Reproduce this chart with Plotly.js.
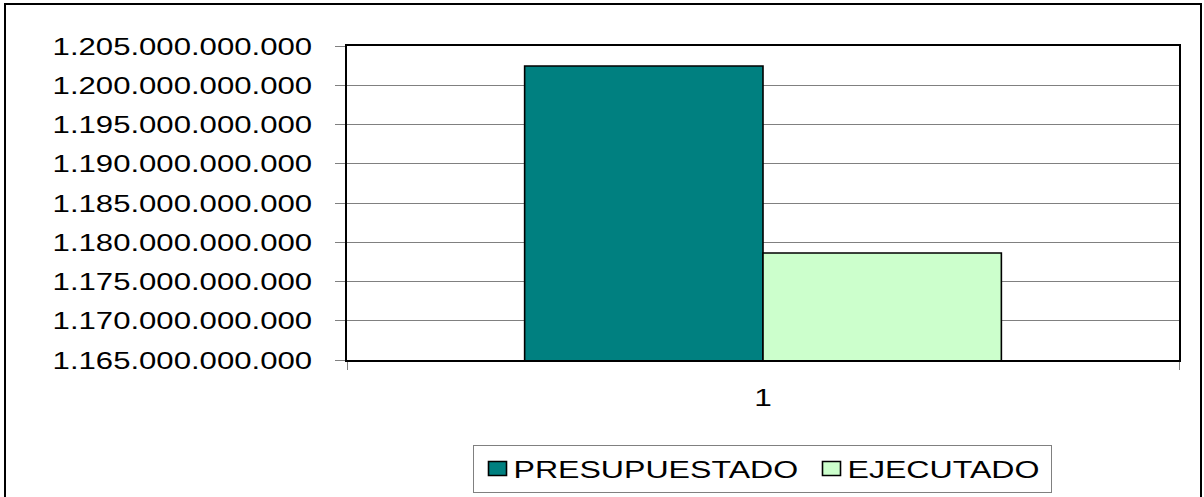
<!DOCTYPE html>
<html>
<head>
<meta charset="utf-8">
<script src="https://cdn.plot.ly/plotly-3.0.1.min.js"></script>
<style>
  html, body { margin: 0; padding: 0; background: #fff; }
  #chart { width: 1204px; height: 497px; }
</style>
</head>
<body>
<div id="chart"></div>
<script>
const categories = ["1"];
const seriesNames = ["PRESUPUESTADO", "EJECUTADO"];
const presupuestado = [1202450000000];
const ejecutado = [1178630000000];
const seriesColors = ["#008080", "#CCFFCC"];
const yTickValues = [1165000000000, 1170000000000, 1175000000000, 1180000000000,
                     1185000000000, 1190000000000, 1195000000000, 1200000000000, 1205000000000];

const traces = [
  {
    type: "bar", name: seriesNames[0], x: categories, y: presupuestado,
    legendwidth: 289,
    marker: { color: seriesColors[0], line: { color: "#000", width: 1.6 } },
    hoverinfo: "y"
  },
  {
    type: "bar", name: seriesNames[1], x: categories, y: ejecutado,
    legendwidth: 198,
    marker: { color: seriesColors[1], line: { color: "#000", width: 1.6 } },
    hoverinfo: "y"
  }
];

const font = { family: "Liberation Sans, Arial, sans-serif", size: 24.7, color: "#000" };

const layout = {
  width: 1204, height: 497,
  margin: { l: 347, r: 25, t: 46, b: 137, autoexpand: false },
  paper_bgcolor: "#fff", plot_bgcolor: "#fff",
  separators: ",.",
  font: font,
  barmode: "group",
  bargap: 0.427,
  bargroupgap: 0,
  showlegend: true,
  legend: {
    orientation: "h", x: 0.4988, xanchor: "center", y: -0.2707, yanchor: "top",
    bordercolor: "#808080", borderwidth: 1, bgcolor: "#fff",
    font: font, itemwidth: 30, traceorder: "normal"
  },
  xaxis: {
    type: "category", showgrid: false, showline: true, linecolor: "#000", linewidth: 2,
    mirror: true, ticks: "outside", tickson: "boundaries", ticklen: 8, tickcolor: "#808080",
    tickwidth: 1, ticklabelstandoff: 14, tickfont: font, fixedrange: true
  },
  yaxis: {
    range: [1165000000000, 1205000000000], tickvals: yTickValues,
    tickformat: ",.0f", showgrid: true, gridcolor: "#808080", gridwidth: 1,
    showline: true, linecolor: "#000", linewidth: 2, mirror: true,
    ticks: "outside", ticklen: 10, tickcolor: "#808080", tickwidth: 1,
    ticklabelstandoff: 18, tickfont: font, zeroline: false, fixedrange: true
  },
  shapes: [
    {
      type: "rect", xref: "paper", yref: "paper", layer: "below",
      x0: (5 - 347) / 832, x1: (1201 - 347) / 832,
      y0: (360 - 499) / 314, y1: (360 - 4) / 314,
      line: { color: "#000", width: 2 }, fillcolor: "rgba(0,0,0,0)"
    }
  ]
};

function stretchText(nodes, s) {
  nodes.forEach(function (t) {
    const x = parseFloat(t.getAttribute("x")) || 0;
    const y = parseFloat(t.getAttribute("y")) || 0;
    const old = t.getAttribute("transform") || "";
    t.setAttribute("transform", old + " translate(" + x + "," + y + ") scale(" + s + ",1) translate(" + (-x) + "," + (-y) + ")");
  });
}

Plotly.newPlot("chart", traces, layout, { displayModeBar: false, staticPlot: true }).then(function (gd) {
  gd.querySelectorAll(".legendpoints path").forEach(function (p) {
    p.setAttribute("d", "M13,7H-5V-7H13Z");
  });
  stretchText(gd.querySelectorAll(".ytick text"), 1.26);
  stretchText(gd.querySelectorAll(".xtick text"), 1.28);
  stretchText(gd.querySelectorAll(".legendtext"), 1.3);
});
</script>
</body>
</html>
